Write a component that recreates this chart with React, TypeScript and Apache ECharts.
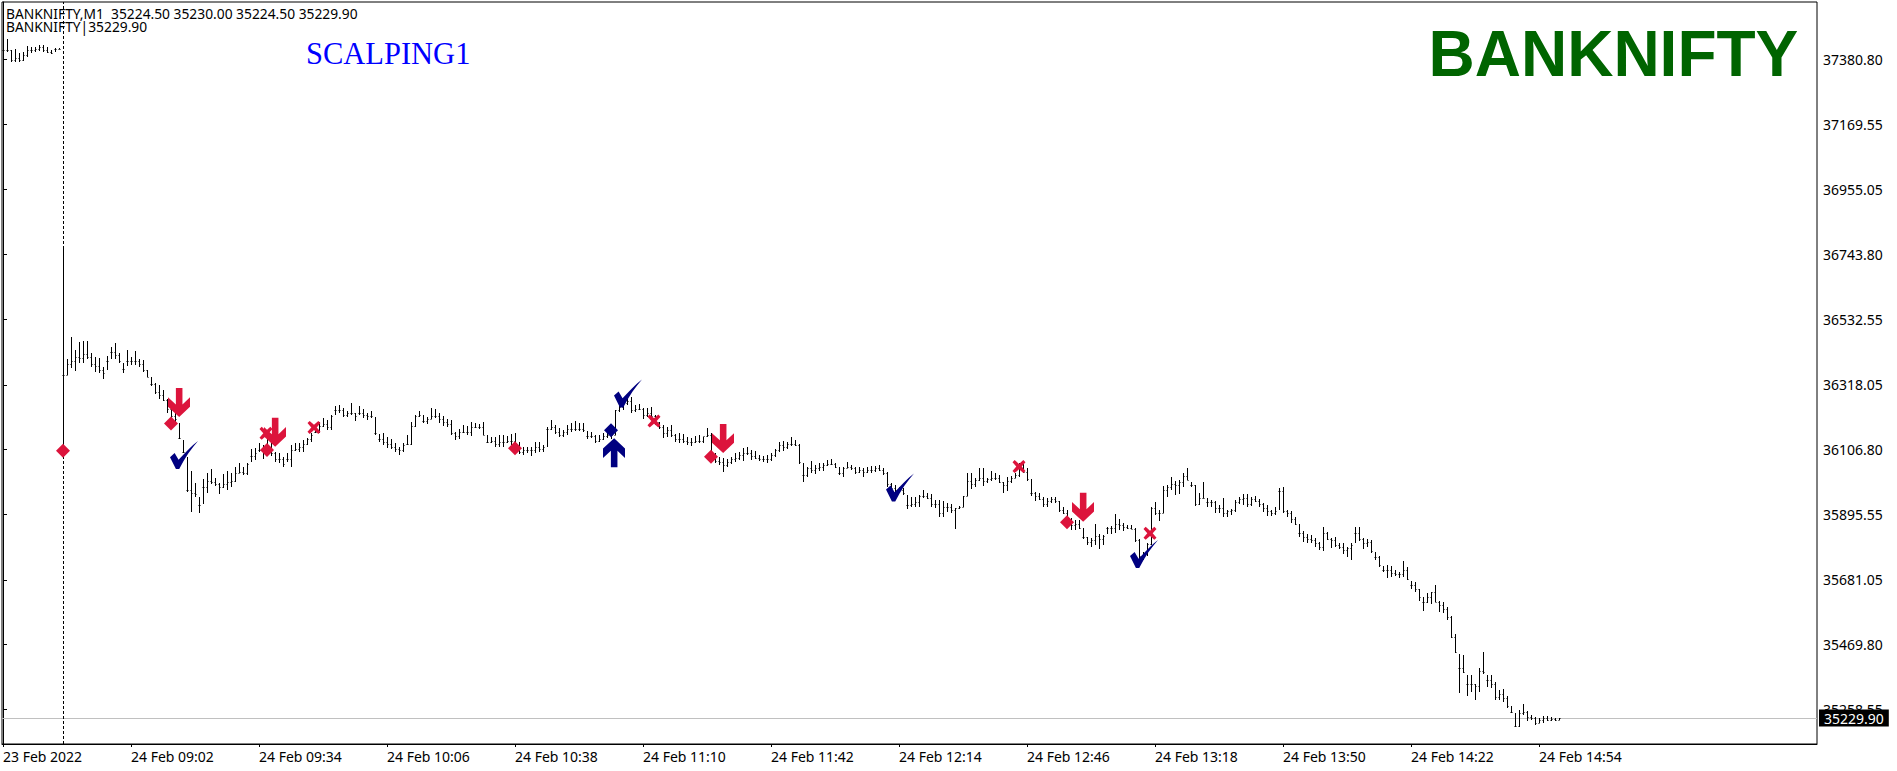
import React, { useEffect, useRef } from "react";
import * as echarts from "echarts";

const highs = [
  37449,37446,37411,37413,37402,37406,37424,37420,37420,37427,
  37426,37420,37411,37417,37419,36765,36401,36473,36432,36459,
  36461,36461,36421,36408,36404,36377,36412,36440,36453,36421,
  36390,36432,36410,36428,36401,36399,36366,36342,36323,36317,
  36301,36271,36247,36241,36192,36138,36083,36038,35996,35953,
  36009,36031,36042,36013,35999,36027,36038,36029,36051,36062,
  36051,36062,36107,36111,36129,36121,36143,36127,36100,36094,
  36083,36094,36121,36127,36127,36138,36143,36162,36181,36198,
  36209,36203,36219,36249,36252,36241,36234,36260,36225,36249,
  36238,36225,36234,36212,36157,36162,36149,36140,36129,36116,
  36129,36154,36198,36219,36234,36219,36214,36241,36238,36225,
  36216,36205,36203,36165,36173,36187,36183,36198,36194,36190,
  36198,36154,36149,36149,36154,36154,36151,36157,36160,36132,
  36116,36116,36114,36132,36132,36121,36181,36203,36187,36176,
  36170,36187,36192,36200,36194,36192,36168,36165,36154,36154,
  36160,36165,36176,36236,36257,36263,36279,36277,36252,36257,
  36241,36241,36247,36219,36198,36187,36181,36187,36157,36160,
  36157,36147,36143,36151,36154,36149,36176,36162,36094,36081,
  36078,36075,36083,36094,36100,36111,36114,36105,36103,36089,
  36086,36089,36094,36107,36132,36136,36132,36147,36138,36125,
  36062,36051,36070,36056,36062,36064,36072,36075,36064,36049,
  36051,36067,36056,36049,36049,36045,36049,36053,36053,36056,
  36045,36034,35998,35991,35985,35980,35958,35953,35951,35958,
  35975,35964,35961,35942,35942,35940,35933,35929,35915,35922,
  35955,36029,36029,36013,36045,36045,36013,36038,36029,36024,
  36002,36018,36020,36029,36062,36070,36045,36009,35969,35966,
  35951,35947,35951,35953,35940,35920,35909,35882,35877,35877,
  35849,35820,35817,35864,35831,35828,35855,35857,35896,35879,
  35866,35860,35860,35849,35814,35773,35800,35920,35936,35909,
  35988,35991,36018,36005,36007,36029,36045,36002,35991,35964,
  36002,35947,35942,35940,35926,35947,35909,35911,35942,35953,
  35961,35961,35953,35955,35944,35933,35926,35909,35918,35980,
  35985,35909,35907,35888,35864,35842,35831,35828,35817,35806,
  35853,35839,35817,35822,35803,35800,35790,35800,35855,35855,
  35817,35814,35811,35773,35759,35726,35730,35726,35713,35708,
  35743,35722,35679,35675,35650,35624,35639,35643,35664,35613,
  35610,35591,35563,35504,35439,35436,35371,35371,35341,35392,
  35445,35371,35371,35349,35322,35324,35302,35269,35245,35256,
  35275,35254,35240,35232,35229,35237,35237,35232,35229,35230,
];

const lows = [
  37406,37406,37373,37373,37373,37376,37387,37402,37405,37409,
  37406,37400,37397,37406,37413,36105,36350,36372,36364,36390,
  36388,36401,36375,36361,36355,36337,36366,36401,36401,36388,
  36355,36379,36383,36383,36377,36361,36342,36314,36288,36271,
  36265,36227,36209,36198,36140,36094,35969,35904,35953,35901,
  35929,35964,35994,35988,35961,35980,35975,35985,36002,36029,
  36024,36024,36067,36072,36100,36075,36100,36086,36067,36064,
  36049,36067,36051,36103,36100,36100,36121,36132,36160,36160,
  36181,36170,36170,36219,36227,36214,36214,36219,36201,36219,
  36209,36203,36209,36154,36132,36121,36111,36107,36100,36089,
  36100,36121,36121,36181,36212,36192,36190,36205,36209,36192,
  36183,36181,36154,36138,36140,36160,36154,36151,36176,36173,
  36154,36127,36127,36114,36114,36114,36127,36121,36111,36092,
  36089,36096,36087,36096,36100,36100,36116,36170,36157,36149,
  36149,36154,36165,36168,36168,36165,36140,36143,36127,36132,
  36138,36143,36140,36154,36230,36236,36252,36227,36230,36236,
  36205,36214,36209,36187,36173,36143,36147,36147,36132,36129,
  36127,36121,36118,36127,36127,36127,36147,36083,36062,36056,
  36034,36051,36059,36067,36072,36070,36089,36072,36075,36070,
  36067,36064,36070,36081,36100,36103,36107,36118,36118,36059,
  36002,36018,36029,36027,36038,36038,36053,36056,36045,36024,
  36016,36045,36040,36027,36029,36016,36029,36029,36034,36038,
  36024,35983,35972,35958,35964,35958,35911,35920,35920,35920,
  35947,35944,35920,35915,35885,35885,35904,35901,35848,35911,
  35918,35955,35977,35983,36005,35988,35999,36005,36007,35999,
  35966,35972,35999,36013,36018,36031,36005,35955,35940,35942,
  35918,35918,35933,35933,35904,35896,35871,35844,35844,35846,
  35814,35795,35790,35795,35781,35795,35831,35831,35835,35844,
  35842,35846,35846,35806,35735,35746,35759,35795,35893,35874,
  35898,35953,35975,35958,35961,35983,36007,35985,35922,35926,
  35947,35920,35918,35901,35901,35885,35885,35893,35904,35929,
  35926,35920,35922,35937,35920,35904,35890,35890,35893,35909,
  35898,35885,35866,35860,35822,35806,35800,35803,35790,35779,
  35777,35811,35784,35787,35781,35766,35757,35746,35800,35809,
  35781,35790,35770,35746,35724,35708,35686,35689,35694,35686,
  35692,35681,35653,35643,35613,35581,35605,35602,35610,35577,
  35574,35550,35490,35441,35313,35376,35302,35316,35289,35316,
  35374,35330,35327,35289,35289,35283,35262,35245,35202,35202,
  35240,35221,35224,35207,35213,35215,35221,35221,35221,35224.5,
];

const closes = [
  37410,37410,37380,37385,37380,37395,37410,37412,37415,37420,
  37412,37405,37403,37415,37415,36350,36385,36395,36410,36405,
  36420,36410,36385,36380,36365,36355,36395,36425,36415,36395,
  36370,36395,36395,36395,36385,36365,36345,36320,36295,36285,
  36270,36240,36215,36205,36145,36100,35975,35965,35960,35925,
  35985,36005,36000,35995,35985,35995,36000,36005,36030,36035,
  36030,36060,36085,36095,36105,36110,36110,36095,36075,36075,
  36060,36075,36105,36110,36115,36125,36140,36155,36165,36185,
  36190,36180,36215,36235,36235,36220,36225,36225,36215,36225,
  36220,36215,36215,36160,36140,36130,36125,36115,36108,36105,
  36120,36125,36185,36215,36220,36200,36205,36215,36215,36205,
  36195,36190,36160,36150,36165,36165,36165,36180,36180,36180,
  36155,36130,36135,36125,36130,36130,36135,36135,36120,36100,
  36105,36105,36105,36115,36110,36115,36175,36180,36165,36155,
  36165,36175,36175,36175,36175,36170,36150,36150,36135,36140,
  36150,36155,36155,36235,36245,36260,36265,36235,36240,36240,
  36220,36225,36215,36195,36180,36160,36170,36155,36140,36140,
  36135,36130,36130,36135,36135,36150,36155,36090,36070,36065,
  36055,36065,36075,36080,36090,36095,36095,36085,36080,36075,
  36075,36075,36090,36105,36120,36115,36125,36125,36120,36065,
  36025,36045,36040,36045,36050,36055,36060,36060,36050,36030,
  36045,36050,36045,36035,36040,36035,36040,36040,36045,36040,
  36030,35995,35980,35975,35975,35965,35925,35930,35935,35955,
  35955,35950,35930,35930,35900,35920,35920,35910,35915,35920,
  35955,36005,35995,36008,36015,36005,36010,36015,36015,36000,
  35990,36005,36015,36025,36045,36035,36010,35965,35955,35945,
  35930,35940,35945,35938,35910,35900,35880,35860,35865,35850,
  35820,35805,35810,35825,35815,35825,35850,35852,35865,35860,
  35855,35852,35848,35812,35760,35770,35798,35915,35900,35900,
  35975,35985,35995,35990,36000,36020,36008,35990,35930,35950,
  35950,35935,35935,35915,35915,35900,35905,35908,35935,35945,
  35950,35930,35945,35940,35930,35915,35905,35900,35905,35970,
  35905,35900,35880,35865,35835,35820,35815,35810,35800,35790,
  35835,35815,35810,35795,35790,35780,35785,35795,35835,35815,
  35800,35805,35775,35755,35730,35715,35715,35705,35700,35700,
  35715,35685,35665,35650,35625,35610,35625,35640,35610,35600,
  35585,35560,35495,35445,35395,35380,35340,35340,35335,35385,
  35380,35355,35340,35300,35310,35295,35270,35250,35205,35245,
  35250,35235,35230,35215,35225,35230,35225,35226,35225,35229.9,
];

const priceTicks = [37380.8,37169.55,36955.05,36743.8,36532.55,36318.05,36106.8,35895.55,35681.05,35469.8,35258.55];
const timeLabels = ["23 Feb 2022","24 Feb 09:02","24 Feb 09:34","24 Feb 10:06","24 Feb 10:38","24 Feb 11:10","24 Feb 11:42","24 Feb 12:14","24 Feb 12:46","24 Feb 13:18","24 Feb 13:50","24 Feb 14:22","24 Feb 14:54"];
const timeLabelBars = [0,32,64,96,128,160,192,224,256,288,320,352,384];
const sessionStartBar = 15;
const lastPrice = 35229.9;

const crimsonDiamonds = [[15,36103],[42,36192],[66,36105],[128,36111],[177,36083],[266,35869]];
const navyDiamonds = [[152,36170]];
const crimsonDownArrows = [[44,36260],[68,36163],[180,36143],[270,35918]];
const navyUpArrows = [[152.75,36096.5]];
const crimsonCrosses = [[65.75,36159.6],[77.75,36179],[162.75,36200],[254,36051],[286.75,35833]];
const navyChecks = [[45.25,36089],[156.25,36290],[224.25,35983],[285.25,35766]];

const DOWN_ARROW = "path://M24 0 L44 0 L44 48 L67 27 L67 55 L34 85 L0 55 L0 27 L24 48 Z";
const UP_ARROW = "path://M24 85 L44 85 L44 37 L67 58 L67 30 L34 0 L0 30 L0 58 L24 37 Z";
const CROSS = "path://M2 0 L6 3.5 L10 0 L12 2 L8.5 6 L12 10 L10 12 L6 8.5 L2 12 L0 10 L3.5 6 L0 2 Z";
const CHECK = "path://M0 48 L14 36 L26 56 C45 35 65 15 85 0 C65 22 45 50 28 83 L18 83 Z";

const rows = highs.map((h, i) => {
  const prev = i > 0 ? closes[i - 1] : closes[i];
  const open = prev <= h && prev >= lows[i] ? prev : closes[i];
  return [i, h, lows[i], closes[i], open];
});

const FONT = "'Noto Sans'";

const markerSeries = (data: number[][], symbol: string, size: number[], color: string) => ({
  type: "scatter",
  data,
  symbol,
  symbolSize: size,
  itemStyle: { color, opacity: 1 },
  z: 5,
  silent: true,
  clip: false,
});

export default function App() {
  const ref = useRef<HTMLDivElement>(null);
  useEffect(() => {
    document.body.style.margin = "0";
    document.body.style.background = "#fff";
    const chart = echarts.init(ref.current!, undefined, { renderer: "svg" });
    chart.setOption({
      animation: false,
      backgroundColor: "#ffffff",
      textStyle: { fontFamily: FONT },
      grid: { left: 2, top: 2, width: 1815, height: 742, show: true, borderColor: "#000", borderWidth: 1, containLabel: false },
      xAxis: {
        type: "value",
        min: -0.25,
        max: 453.5,
        splitLine: { show: false },
        axisLine: { show: true, lineStyle: { color: "#000", width: 1 } },
        axisTick: { show: true, length: 3, lineStyle: { color: "#000" }, customValues: timeLabelBars },
        axisLabel: {
          color: "#000",
          fontFamily: FONT,
          fontSize: 14,
          margin: 5,
          align: "left",
          customValues: timeLabelBars,
          hideOverlap: false,
          formatter: (v: number) => timeLabels[timeLabelBars.indexOf(v)] ?? "",
        },
      },
      yAxis: {
        type: "value",
        position: "right",
        min: 35145.3,
        max: 37567.9,
        splitLine: { show: false },
        axisLine: { show: true, lineStyle: { color: "#000", width: 1 } },
        axisTick: { show: true, length: 4, lineStyle: { color: "#000" }, customValues: priceTicks },
        axisLabel: {
          color: "#000",
          fontFamily: FONT,
          fontSize: 14,
          margin: 6,
          customValues: priceTicks,
          hideOverlap: false,
          formatter: (v: number) => v.toFixed(2),
        },
      },
      graphic: [
        { type: "text", x: 6, y: 6, z: 20, style: { text: "BANKNIFTY,M1  35224.50 35230.00 35224.50 35229.90", fill: "#000", font: `13.8px ${FONT}` } },
        { type: "text", x: 6, y: 19, z: 20, style: { text: "BANKNIFTY|35229.90", fill: "#000", font: `13.8px ${FONT}` } },
        { type: "text", x: 306, y: 38, z: 20, style: { text: "SCALPING1", fill: "#0000ff", font: `30.5px 'Liberation Serif'` } },
        { type: "text", x: 1428.5, y: 22, z: 20, style: { text: "BANKNIFTY", fill: "#006400", font: `bold 64px 'Liberation Sans'` } },
      ],
      series: [
        {
          type: "custom",
          z: 3,
          silent: true,
          clip: true,
          encode: { x: 0, y: [1, 2, 3, 4] },
          data: rows,
          renderItem: (_p: any, api: any) => {
            const k = api.value(0);
            const top = api.coord([k, api.value(1)]);
            const bot = api.coord([k, api.value(2)]);
            const cl = api.coord([k, api.value(3)]);
            const op = api.coord([k, api.value(4)]);
            const x = Math.round(top[0]) + 0.5;
            const st = { stroke: "#000", lineWidth: 1 };
            return {
              type: "group",
              children: [
                { type: "line", shape: { x1: x, y1: Math.round(top[1]), x2: x, y2: Math.round(bot[1]) }, style: st },
                { type: "line", shape: { x1: x - 1, y1: Math.round(op[1]) + 0.5, x2: x, y2: Math.round(op[1]) + 0.5 }, style: st },
                { type: "line", shape: { x1: x, y1: Math.round(cl[1]) + 0.5, x2: x + 1, y2: Math.round(cl[1]) + 0.5 }, style: st },
              ],
            };
          },
          markLine: {
            silent: true,
            symbol: "none",
            z: 2,
            animation: false,
            data: [
              {
                yAxis: lastPrice,
                lineStyle: { color: "#c0c0c0", width: 1, type: "solid" },
                label: {
                  show: true,
                  position: "end",
                  distance: 2,
                  color: "#fff",
                  fontFamily: FONT,
                  fontSize: 14,
                  backgroundColor: "#000",
                  padding: [0, 5, 0, 5],
                  lineHeight: 17,
                  formatter: () => lastPrice.toFixed(2),
                },
              },
              {
                xAxis: sessionStartBar,
                lineStyle: { color: "#000", width: 1, type: [3, 2] },
                label: { show: false },
              },
            ],
          },
        },
        markerSeries(crimsonDiamonds, "diamond", [14, 14], "#DC143C"),
        markerSeries(navyDiamonds, "diamond", [14, 14], "#000080"),
        markerSeries(crimsonDownArrows, DOWN_ARROW, [22, 29], "#DC143C"),
        markerSeries(navyUpArrows, UP_ARROW, [22, 29], "#000080"),
        markerSeries(crimsonCrosses, CROSS, [13, 13], "#DC143C"),
        markerSeries(navyChecks, CHECK, [28, 28], "#000080"),
      ],
    });
    return () => chart.dispose();
  }, []);
  return <div ref={ref} style={{ position: "fixed", left: 0, top: 0, width: 1897, height: 771 }} />;
}
